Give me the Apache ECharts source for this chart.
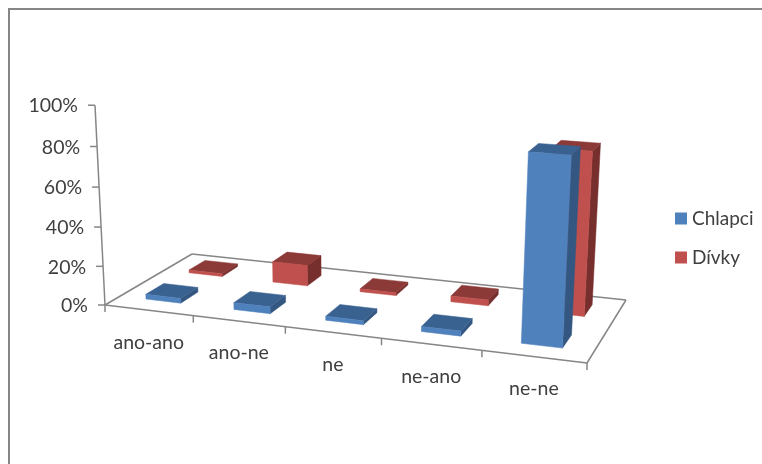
<!DOCTYPE html>
<html><head><meta charset="utf-8">
<style>html,body{margin:0;padding:0;background:#fff}#c{width:762px;height:464px}</style>
<script src="https://cdn.jsdelivr.net/npm/echarts@6/dist/echarts.min.js"></script></head>
<body><div id="c"></div>
<script>
const categories = ['ano-ano','ano-ne','ne','ne-ano','ne-ne'];
const chlapci = [2.5, 3.5, 2, 2.5, 90];
const divky = [1.5, 11, 1.5, 3, 82];
const yTicks = [0, 20, 40, 60, 80, 100];

const FONT = 'Lato';
const GRID = {left:100, top:100, width:500, height:200};
// view of the 3-D box: floor corners on screen, and vertical vanishing terms
const Q = [[105,305],[587,363],[626,300],[192,254]];
const VERT = {cx:-13.8, cy:-204, i:-0.04};
const H = (function(){
  const [x0,y0]=Q[0],[x1,y1]=Q[1],[x2,y2]=Q[2],[x3,y3]=Q[3];
  const dx1=x1-x2,dx2=x3-x2,sx=x0-x1+x2-x3,dy1=y1-y2,dy2=y3-y2,sy=y0-y1+y2-y3;
  const den=dx1*dy2-dx2*dy1;
  const g=(sx*dy2-dx2*sy)/den,h=(dx1*sy-sx*dy1)/den;
  return {a:x1-x0+g*x1,b:x3-x0+h*x3,c:x0,d:y1-y0+g*y1,e:y3-y0+h*y3,f:y0,g,h};
})();
// gridX/gridY are pixels from the cartesian axes; depth is 0 (front) .. 1 (back)
function view(gridX, gridY, depth){
  const U=(gridX-GRID.left)/GRID.width, V=depth, W=(GRID.top+GRID.height-gridY)/GRID.height;
  const den=H.g*U+H.h*V+1+VERT.i*W;
  return [(H.a*U+H.b*V+H.c+VERT.cx*W)/den,(H.d*U+H.e*V+H.f+VERT.cy*W)/den];
}
function poly(points, fill){
  return {type:'polygon',shape:{points},style:{fill,stroke:fill,lineWidth:0.5}};
}
function barRenderer(d0,d1,front,top,side,frac){
  return function(params,api){
    const c=api.coord([api.value(0),api.value(1)]), base=api.coord([api.value(0),0]);
    const hw=api.size([1,0])[0]*frac/2;
    const xl=c[0]-hw,xr=c[0]+hw;
    const p=(x,y,d)=>view(x,y,d);
    return {type:'group',children:[
      poly([p(xr,base[1],d0),p(xr,base[1],d1),p(xr,c[1],d1),p(xr,c[1],d0)],side),
      poly([p(xl,c[1],d0),p(xr,c[1],d0),p(xr,c[1],d1),p(xl,c[1],d1)],top),
      poly([p(xl,base[1],d0),p(xr,base[1],d0),p(xr,c[1],d0),p(xl,c[1],d0)],front)
    ]};
  };
}
const LINE='#868686';
function seg(a,b){return {type:'line',shape:{x1:a[0],y1:a[1],x2:b[0],y2:b[1]},style:{stroke:LINE,lineWidth:1.5}};}
const TXT={fill:'#404040',font:'19.5px '+FONT};

const chart=echarts.init(document.getElementById('c'),null,{renderer:'canvas'});
chart.setOption({
  animation:false,
  backgroundColor:'#fff',
  grid:GRID,
  xAxis:{type:'category',data:categories,show:false},
  yAxis:{type:'value',min:0,max:100,interval:20,show:false},
  legend:{orient:'vertical',left:675,top:209,padding:0,itemWidth:12,itemHeight:12,itemGap:20,icon:'rect',
    data:['Chlapci','Dívky'],textStyle:{fontFamily:FONT,fontSize:19,color:'#404040'},selectedMode:false},
  graphic:[{type:'rect',shape:{x:9,y:9,width:900,height:600},style:{fill:'none',stroke:LINE,lineWidth:2},silent:true,z:-1}],
  series:[
    {type:'custom',name:'floor',coordinateSystem:'cartesian2d',silent:true,z:1,clip:false,data:[[0,0]],
      renderItem(){
        const b=GRID.top+GRID.height,l=GRID.left,r=l+GRID.width;
        const A=view(l,b,0),B=view(r,b,0),C=view(r,b,1),D=view(l,b,1),T=view(l,GRID.top,0);
        return {type:'group',children:[seg(A,B),seg(B,C),seg(C,D),seg(D,A),seg(A,T)]};
      }},
    {type:'custom',name:'yaxis',coordinateSystem:'cartesian2d',silent:true,z:1,clip:false,
      data:yTicks.map(t=>[0,t]),
      renderItem(params,api){
        const y=api.coord([0,api.value(1)])[1];
        const a=view(GRID.left,y,0);
        return {type:'group',children:[
          seg([a[0]-7,a[1]],a),
          {type:'text',style:{text:api.value(1)+'%',x:a[0]-17,y:a[1]+1,align:'right',verticalAlign:'middle',fill:TXT.fill,font:TXT.font}}
        ]};
      }},
    {type:'custom',name:'xaxis',coordinateSystem:'cartesian2d',silent:true,z:1,clip:false,
      data:categories.map((c,i)=>[i,0]),
      renderItem(params,api){
        const i=api.value(0),c=api.coord([i,0]),w=api.size([1,0])[0];
        const e=view(c[0]+w/2,c[1],0),m=view(c[0],c[1],0);
        const ch=[seg(e,[e[0],e[1]+7])];
        if(i===0){const s=view(c[0]-w/2,c[1],0);ch.push(seg(s,[s[0],s[1]+7]));}
        ch.push({type:'text',style:{text:categories[i],x:m[0],y:m[1]+32,align:'center',verticalAlign:'middle',fill:TXT.fill,font:TXT.font}});
        return {type:'group',children:ch};
      }},
    {type:'custom',name:'Dívky',coordinateSystem:'cartesian2d',z:2,clip:false,
      itemStyle:{color:'#C0504D'},data:divky.map((v,i)=>[i,v]),
      renderItem:barRenderer(0.66,0.86,'#C0504D','#8C3A38','#772F2D',0.4)},
    {type:'custom',name:'Chlapci',coordinateSystem:'cartesian2d',z:3,clip:false,
      itemStyle:{color:'#4F81BD'},data:chlapci.map((v,i)=>[i,v]),
      renderItem:barRenderer(0.16,0.36,'#4F81BD','#3A6291','#345781',0.4)}
  ]
});
</script></body></html>
